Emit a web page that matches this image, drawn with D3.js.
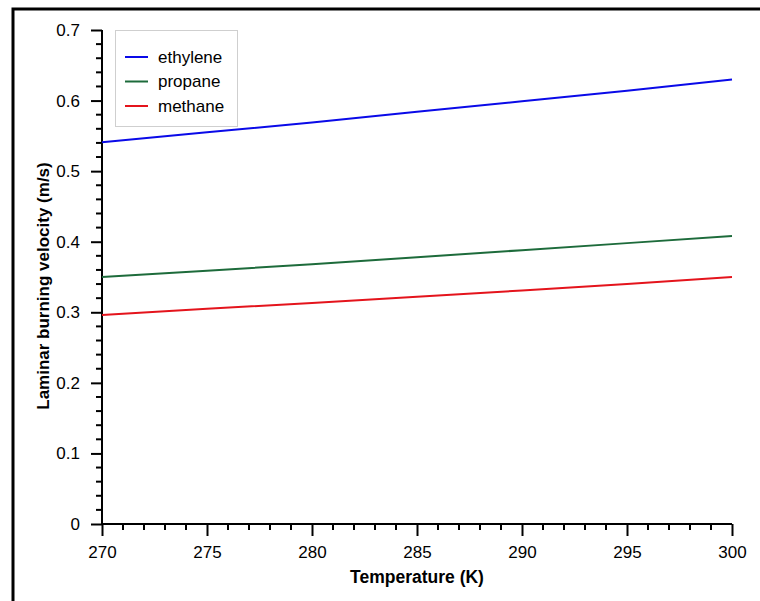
<!DOCTYPE html>
<html>
<head>
<meta charset="utf-8">
<script src="https://cdn.jsdelivr.net/npm/d3@7"></script>
<style>
  html, body { margin: 0; padding: 0; background: #fff; }
  svg { display: block; font-family: "Liberation Sans", Arial, sans-serif; }
</style>
</head>
<body>
<svg id="chart" width="760" height="601"></svg>
<script>
// Laminar burning velocity versus unburned gas temperature
const temperatures = [270, 275, 280, 285, 290, 295, 300];
const ethylene = [0.541, 0.555, 0.569, 0.584, 0.599, 0.614, 0.630];
const propane  = [0.350, 0.359, 0.368, 0.378, 0.388, 0.398, 0.408];
const methane  = [0.296, 0.305, 0.313, 0.322, 0.331, 0.340, 0.350];
const seriesNames = ["ethylene", "propane", "methane"];
const seriesColors = ["#0a0ae8", "#1d6b3b", "#e4141c"];
const xTickValues = [270, 275, 280, 285, 290, 295, 300];
const yTickValues = [0, 0.1, 0.2, 0.3, 0.4, 0.5, 0.6, 0.7];

const series = [ethylene, propane, methane].map((vals, i) => ({
  name: seriesNames[i],
  color: seriesColors[i],
  points: temperatures.map((t, j) => ({ t, v: vals[j] }))
}));

const svg = d3.select("#chart");
const plot = { left: 102, right: 732, top: 30, bottom: 524 };

const x = d3.scaleLinear().domain([270, 300]).range([plot.left, plot.right]);
const y = d3.scaleLinear().domain([0, 0.7]).range([plot.bottom, plot.top]);

// outer frame (top and left edges)
svg.append("path")
  .attr("d", "M13,601 L13,9 L760,9")
  .attr("fill", "none")
  .attr("stroke", "#000")
  .attr("stroke-width", 3);

// minor ticks
const xMinor = d3.range(270, 301, 1).filter(v => v % 5 !== 0);
const yMinor = d3.range(0, 71, 2).map(v => v / 100).filter(v => Math.round(v * 100) % 10 !== 0);

const xAxis = svg.append("g")
  .attr("transform", `translate(0,${plot.bottom})`)
  .call(d3.axisBottom(x).tickValues(xTickValues).tickFormat(d3.format("d"))
    .tickSize(12).tickPadding(10));
xAxis.selectAll(".tick line").attr("stroke-width", 2);
xAxis.select(".domain").attr("d", `M${plot.left},0H${plot.right}`).attr("stroke-width", 2);
xAxis.selectAll("text").attr("font-size", 17).attr("fill", "#000")
  .attr("font-family", "Liberation Sans, Arial, sans-serif");
xAxis.selectAll(".minor").data(xMinor).enter().append("line")
  .attr("class", "minor")
  .attr("x1", d => x(d)).attr("x2", d => x(d))
  .attr("y1", 0).attr("y2", 6)
  .attr("stroke", "#000").attr("stroke-width", 2);

const yAxis = svg.append("g")
  .attr("transform", `translate(${plot.left},0)`)
  .call(d3.axisLeft(y).tickValues(yTickValues).tickFormat(d => d === 0 ? "0" : d3.format(".1f")(d))
    .tickSize(11).tickPadding(11));
yAxis.selectAll(".tick line").attr("stroke-width", 2);
yAxis.select(".domain").attr("d", `M0,${plot.bottom}V${plot.top}`).attr("stroke-width", 2);
yAxis.selectAll("text").attr("font-size", 17).attr("fill", "#000")
  .attr("font-family", "Liberation Sans, Arial, sans-serif");
yAxis.selectAll(".minor").data(yMinor).enter().append("line")
  .attr("class", "minor")
  .attr("y1", d => y(d)).attr("y2", d => y(d))
  .attr("x1", 0).attr("x2", -6)
  .attr("stroke", "#000").attr("stroke-width", 2);

// axis titles
svg.append("text")
  .attr("x", (plot.left + plot.right) / 2)
  .attr("y", 583)
  .attr("text-anchor", "middle")
  .attr("font-size", 17.5)
  .attr("font-weight", "bold")
  .text("Temperature (K)");

svg.append("text")
  .attr("transform", `translate(49,286) rotate(-90)`)
  .attr("text-anchor", "middle")
  .attr("font-size", 17)
  .attr("font-weight", "bold")
  .text("Laminar burning velocity (m/s)");

// data lines
const line = d3.line().x(d => x(d.t)).y(d => y(d.v));
svg.append("g").selectAll("path").data(series).enter().append("path")
  .attr("d", d => line(d.points))
  .attr("fill", "none")
  .attr("stroke", d => d.color)
  .attr("stroke-width", 2);

// legend
const legend = svg.append("g");
legend.append("rect")
  .attr("x", 115.5).attr("y", 30.5).attr("width", 122).attr("height", 96)
  .attr("fill", "#fff").attr("stroke", "#cfcfcf").attr("stroke-width", 1);
const rows = legend.selectAll("g.row").data(series).enter().append("g")
  .attr("class", "row")
  .attr("transform", (d, i) => `translate(0,${57 + i * 24.5})`);
rows.append("line")
  .attr("x1", 125).attr("x2", 148).attr("y1", 0).attr("y2", 0)
  .attr("stroke", d => d.color).attr("stroke-width", 2);
rows.append("text")
  .attr("x", 158).attr("y", 0).attr("dy", "0.35em")
  .attr("font-size", 17)
  .text(d => d.name);
</script>
</body>
</html>
